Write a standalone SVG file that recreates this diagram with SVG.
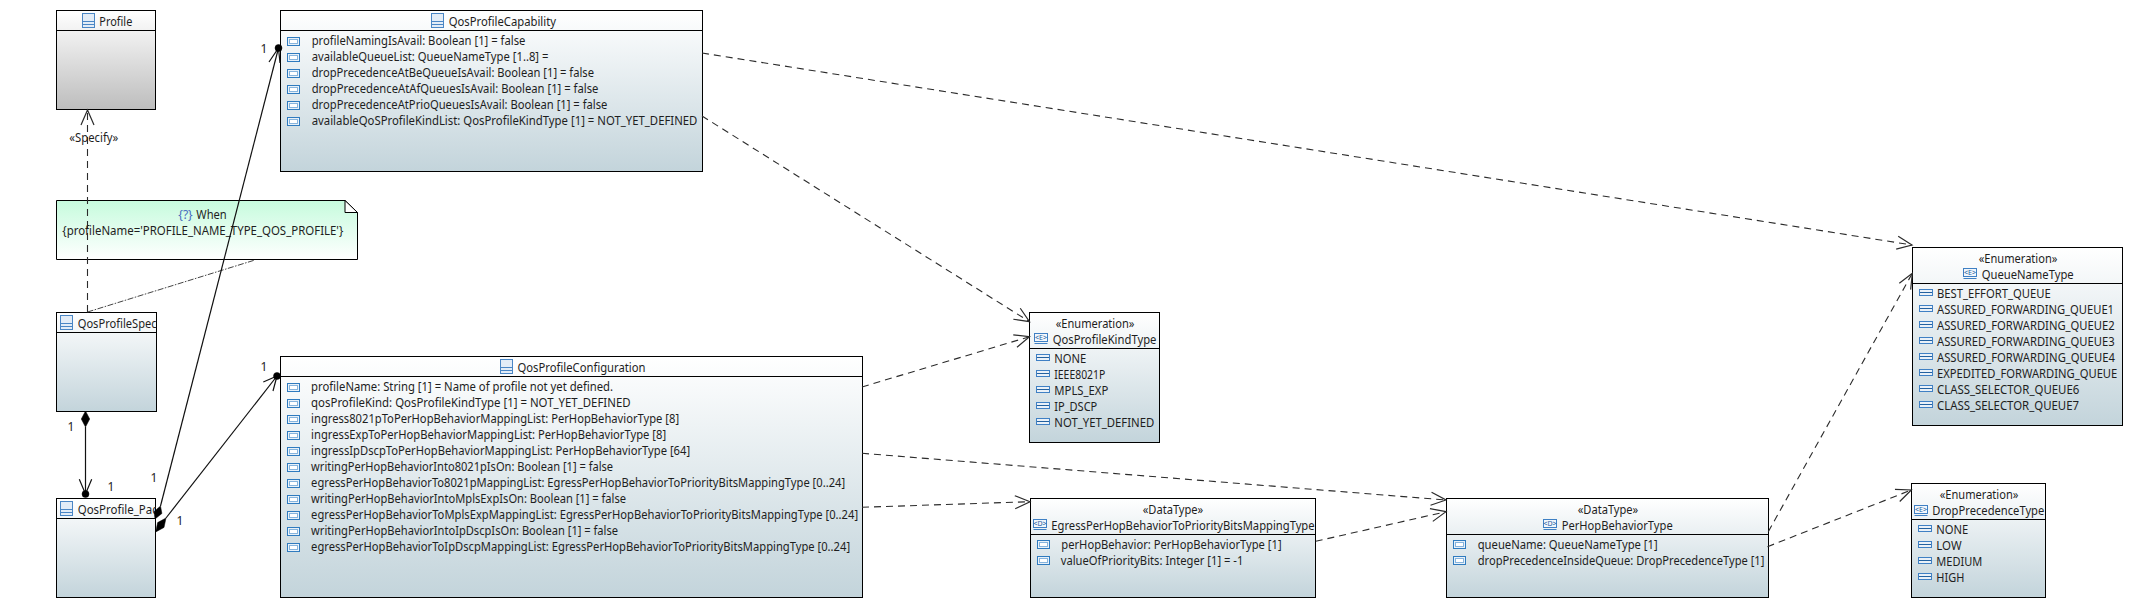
<svg xmlns="http://www.w3.org/2000/svg" width="2133" height="614" viewBox="0 0 2133 614">
<style>
text{font-family:"Noto Sans","Open Sans","Liberation Sans",sans-serif;font-size:12px;fill:#1e1e1e}
.m{text-anchor:start}
.box{stroke:#000;stroke-width:1}
.sep{stroke:#000;stroke-width:1;fill:none}
.dep{fill:none;stroke:#2b2b2b;stroke-width:1.1;stroke-dasharray:7 5;marker-end:url(#open)}
.link{fill:none;stroke:#444;stroke-width:1;stroke-dasharray:6 1.5 1.5 1.5}
.assoc{fill:none;stroke:#111;stroke-width:1.2}
.wing{fill:none;stroke:#111;stroke-width:1.2}
.solid{fill:#000;stroke:#000;stroke-width:.5}
</style>
<defs>
<linearGradient id="gB" x1="0" y1="0" x2="0" y2="1"><stop offset="0" stop-color="#fff"/><stop offset="1" stop-color="#c3d4db"/></linearGradient>
<linearGradient id="gG" x1="0" y1="0" x2="0" y2="1"><stop offset="0" stop-color="#fff"/><stop offset="1" stop-color="#bdbdbd"/></linearGradient>
<linearGradient id="gN" x1="0" y1="0" x2="0" y2="1"><stop offset="0" stop-color="#c6fbdd"/><stop offset="1" stop-color="#fff"/></linearGradient>
<marker id="open" markerUnits="userSpaceOnUse" markerWidth="20" markerHeight="18" refX="16" refY="7" orient="auto" overflow="visible"><path d="M1,0.5 L16,7 L1,13.5" fill="none" stroke="#2b2b2b" stroke-width="1.2"/></marker>
<g id="icC"><rect x=".5" y=".5" width="12" height="14" fill="#e2ecf7" stroke="#4a86c5"/><path d="M.5,8.5H12.5M.5,11.5H12.5" stroke="#4a86c5" fill="none"/></g>
<g id="icA"><rect x=".5" y=".5" width="12" height="8" fill="#e8f1f9" stroke="#2f7bbf"/><rect x="2.5" y="2.5" width="8" height="4" fill="#fff" stroke="#86b4dd"/></g>
<g id="icL"><rect x=".5" y=".5" width="13" height="6" fill="#eaf1f8" stroke="#3f80c4"/><path d="M1,3.5H13" stroke="#23619f" fill="none"/></g>
<g id="icE"><rect x=".5" y=".5" width="13" height="8" fill="#f2f7fc" stroke="#3f80c4"/><path d="M.5,10.5H13.5" stroke="#3f80c4" fill="none"/><text x="7" y="7" text-anchor="middle" style="font-size:7px;fill:#23619f">&lt;E&gt;</text></g>
<g id="icD"><rect x=".5" y=".5" width="13" height="8" fill="#f2f7fc" stroke="#3f80c4"/><path d="M.5,10.5H13.5" stroke="#3f80c4" fill="none"/><text x="7" y="7" text-anchor="middle" style="font-size:7px;fill:#23619f">&lt;D&gt;</text></g>
<clipPath id="cSpec"><rect x="57" y="313" width="100" height="20"/></clipPath>
<clipPath id="cPac"><rect x="57" y="499" width="99" height="20"/></clipPath>
</defs>

<g id="Profile">
<rect class="box" x="56.5" y="10.5" width="99" height="99" fill="url(#gG)"/>
<path class="sep" d="M56.5,30.5H155.5"/>
<use href="#icC" x="82" y="13"/>
<text x="99.3" y="26" textLength="33" lengthAdjust="spacingAndGlyphs">Profile</text>
</g>

<g id="Note">
<path class="box" d="M56.5,200.5H345L357.5,212.5V259.5H56.5Z" fill="url(#gN)"/>
<path d="M345,200.5V212.5H357.5L345,200.5Z" fill="#fff" stroke="#000"/>
<text x="178.3" y="219" textLength="14.4" lengthAdjust="spacingAndGlyphs" style="fill:#4a6cc0">{?}</text>
<text x="196.3" y="219" textLength="30.4" lengthAdjust="spacingAndGlyphs">When</text>
<text x="62.3" y="235" textLength="281" lengthAdjust="spacingAndGlyphs">{profileName='PROFILE_NAME_TYPE_QOS_PROFILE'}</text>
</g>

<g id="QosProfileSpec">
<rect class="box" x="56.5" y="312.5" width="100" height="99" fill="url(#gB)"/>
<path class="sep" d="M56.5,332.5H156.5"/>
<use href="#icC" x="60" y="315"/>
<text x="77.7" y="328" textLength="79" lengthAdjust="spacingAndGlyphs" clip-path="url(#cSpec)">QosProfileSpec</text>
</g>

<g id="QosProfile_Pac">
<rect class="box" x="56.5" y="498.5" width="99" height="99" fill="url(#gB)"/>
<path class="sep" d="M56.5,518.5H155.5"/>
<use href="#icC" x="60" y="501"/>
<text x="77.7" y="514" textLength="80" lengthAdjust="spacingAndGlyphs" clip-path="url(#cPac)">QosProfile_Pac</text>
</g>

<g id="QosProfileCapability">
<rect class="box" x="280.5" y="10.5" width="422" height="161" fill="url(#gB)"/>
<path class="sep" d="M280.5,30.5H702.5"/>
<use href="#icC" x="431" y="13"/>
<text x="448.7" y="26" textLength="107.3" lengthAdjust="spacingAndGlyphs">QosProfileCapability</text>
<use href="#icA" x="287" y="37"/><text x="311.7" y="45" textLength="213.7" lengthAdjust="spacingAndGlyphs">profileNamingIsAvail: Boolean [1] = false</text>
<use href="#icA" x="287" y="53"/><text x="311.7" y="61" textLength="236.7" lengthAdjust="spacingAndGlyphs">availableQueueList: QueueNameType [1..8] =</text>
<use href="#icA" x="287" y="69"/><text x="311.7" y="77" textLength="282.3" lengthAdjust="spacingAndGlyphs">dropPrecedenceAtBeQueueIsAvail: Boolean [1] = false</text>
<use href="#icA" x="287" y="85"/><text x="311.7" y="93" textLength="286.7" lengthAdjust="spacingAndGlyphs">dropPrecedenceAtAfQueuesIsAvail: Boolean [1] = false</text>
<use href="#icA" x="287" y="101"/><text x="311.7" y="109" textLength="295.7" lengthAdjust="spacingAndGlyphs">dropPrecedenceAtPrioQueuesIsAvail: Boolean [1] = false</text>
<use href="#icA" x="287" y="117"/><text x="311.7" y="125" textLength="385.7" lengthAdjust="spacingAndGlyphs">availableQoSProfileKindList: QosProfileKindType [1] = NOT_YET_DEFINED</text>
</g>

<g id="QosProfileConfiguration">
<rect class="box" x="280.5" y="356.5" width="582" height="241" fill="url(#gB)"/>
<path class="sep" d="M280.5,376.5H862.5"/>
<use href="#icC" x="500" y="359"/>
<text x="517.5" y="372" textLength="128" lengthAdjust="spacingAndGlyphs">QosProfileConfiguration</text>
<use href="#icA" x="287" y="383"/><text x="311.1" y="391" textLength="302" lengthAdjust="spacingAndGlyphs">profileName: String [1] = Name of profile not yet defined.</text>
<use href="#icA" x="287" y="399"/><text x="311.1" y="407" textLength="319.5" lengthAdjust="spacingAndGlyphs">qosProfileKind: QosProfileKindType [1] = NOT_YET_DEFINED</text>
<use href="#icA" x="287" y="415"/><text x="311.1" y="423" textLength="368" lengthAdjust="spacingAndGlyphs">ingress8021pToPerHopBehaviorMappingList: PerHopBehaviorType [8]</text>
<use href="#icA" x="287" y="431"/><text x="311.1" y="439" textLength="355" lengthAdjust="spacingAndGlyphs">ingressExpToPerHopBehaviorMappingList: PerHopBehaviorType [8]</text>
<use href="#icA" x="287" y="447"/><text x="311.1" y="455" textLength="379" lengthAdjust="spacingAndGlyphs">ingressIpDscpToPerHopBehaviorMappingList: PerHopBehaviorType [64]</text>
<use href="#icA" x="287" y="463"/><text x="311.1" y="471" textLength="302" lengthAdjust="spacingAndGlyphs">writingPerHopBehaviorInto8021pIsOn: Boolean [1] = false</text>
<use href="#icA" x="287" y="479"/><text x="311.1" y="487" textLength="534" lengthAdjust="spacingAndGlyphs">egressPerHopBehaviorTo8021pMappingList: EgressPerHopBehaviorToPriorityBitsMappingType [0..24]</text>
<use href="#icA" x="287" y="495"/><text x="311.1" y="503" textLength="315" lengthAdjust="spacingAndGlyphs">writingPerHopBehaviorIntoMplsExpIsOn: Boolean [1] = false</text>
<use href="#icA" x="287" y="511"/><text x="311.1" y="519" textLength="547" lengthAdjust="spacingAndGlyphs">egressPerHopBehaviorToMplsExpMappingList: EgressPerHopBehaviorToPriorityBitsMappingType [0..24]</text>
<use href="#icA" x="287" y="527"/><text x="311.1" y="535" textLength="307" lengthAdjust="spacingAndGlyphs">writingPerHopBehaviorIntoIpDscpIsOn: Boolean [1] = false</text>
<use href="#icA" x="287" y="543"/><text x="311.1" y="551" textLength="539" lengthAdjust="spacingAndGlyphs">egressPerHopBehaviorToIpDscpMappingList: EgressPerHopBehaviorToPriorityBitsMappingType [0..24]</text>
</g>

<g id="QosProfileKindType">
<rect class="box" x="1029.5" y="312.5" width="130" height="130" fill="url(#gB)"/>
<path class="sep" d="M1029.5,348.5H1159.5"/>
<text x="1055.7" y="328" textLength="78.7" lengthAdjust="spacingAndGlyphs">«Enumeration»</text>
<use href="#icE" x="1034" y="333"/>
<text x="1052.7" y="344" textLength="103.7" lengthAdjust="spacingAndGlyphs">QosProfileKindType</text>
<use href="#icL" x="1036" y="354"/><text x="1054.3" y="362.5" textLength="32" lengthAdjust="spacingAndGlyphs">NONE</text>
<use href="#icL" x="1036" y="370"/><text x="1054.3" y="378.5" textLength="51" lengthAdjust="spacingAndGlyphs">IEEE8021P</text>
<use href="#icL" x="1036" y="386"/><text x="1054.3" y="394.5" textLength="54" lengthAdjust="spacingAndGlyphs">MPLS_EXP</text>
<use href="#icL" x="1036" y="402"/><text x="1054.3" y="410.5" textLength="43" lengthAdjust="spacingAndGlyphs">IP_DSCP</text>
<use href="#icL" x="1036" y="418"/><text x="1054.3" y="426.5" textLength="100" lengthAdjust="spacingAndGlyphs">NOT_YET_DEFINED</text>
</g>

<g id="EgressPerHopBehaviorToPriorityBitsMappingType">
<rect class="box" x="1030.5" y="498.5" width="285" height="99" fill="url(#gB)"/>
<path class="sep" d="M1030.5,534.5H1315.5"/>
<text x="1142.7" y="514" textLength="60.6" lengthAdjust="spacingAndGlyphs">«DataType»</text>
<use href="#icD" x="1033" y="519"/>
<text x="1051.3" y="530" textLength="263.3" lengthAdjust="spacingAndGlyphs">EgressPerHopBehaviorToPriorityBitsMappingType</text>
<use href="#icA" x="1037" y="540"/><text x="1061.3" y="549" textLength="220.3" lengthAdjust="spacingAndGlyphs">perHopBehavior: PerHopBehaviorType [1]</text>
<use href="#icA" x="1037" y="556"/><text x="1060.7" y="565" textLength="182.7" lengthAdjust="spacingAndGlyphs">valueOfPriorityBits: Integer [1] = -1</text>
</g>

<g id="PerHopBehaviorType">
<rect class="box" x="1446.5" y="498.5" width="322" height="99" fill="url(#gB)"/>
<path class="sep" d="M1446.5,534.5H1768.5"/>
<text x="1577.7" y="514" textLength="60.6" lengthAdjust="spacingAndGlyphs">«DataType»</text>
<use href="#icD" x="1543" y="519"/>
<text x="1561.7" y="530" textLength="111" lengthAdjust="spacingAndGlyphs">PerHopBehaviorType</text>
<use href="#icA" x="1453" y="540"/><text x="1477.7" y="549" textLength="180" lengthAdjust="spacingAndGlyphs">queueName: QueueNameType [1]</text>
<use href="#icA" x="1453" y="556"/><text x="1477.7" y="565" textLength="286.7" lengthAdjust="spacingAndGlyphs">dropPrecedenceInsideQueue: DropPrecedenceType [1]</text>
</g>

<g id="QueueNameType">
<rect class="box" x="1912.5" y="247.5" width="210" height="178" fill="url(#gB)"/>
<path class="sep" d="M1912.5,283.5H2122.5"/>
<text x="1978.7" y="263" textLength="78.7" lengthAdjust="spacingAndGlyphs">«Enumeration»</text>
<use href="#icE" x="1963" y="268"/>
<text x="1981.7" y="279" textLength="92" lengthAdjust="spacingAndGlyphs">QueueNameType</text>
<use href="#icL" x="1919" y="289"/><text x="1937" y="297.5" textLength="113.7" lengthAdjust="spacingAndGlyphs">BEST_EFFORT_QUEUE</text>
<use href="#icL" x="1919" y="305"/><text x="1937" y="313.5" textLength="177" lengthAdjust="spacingAndGlyphs">ASSURED_FORWARDING_QUEUE1</text>
<use href="#icL" x="1919" y="321"/><text x="1937" y="329.5" textLength="177.7" lengthAdjust="spacingAndGlyphs">ASSURED_FORWARDING_QUEUE2</text>
<use href="#icL" x="1919" y="337"/><text x="1937" y="345.5" textLength="177.7" lengthAdjust="spacingAndGlyphs">ASSURED_FORWARDING_QUEUE3</text>
<use href="#icL" x="1919" y="353"/><text x="1937" y="361.5" textLength="178" lengthAdjust="spacingAndGlyphs">ASSURED_FORWARDING_QUEUE4</text>
<use href="#icL" x="1919" y="369"/><text x="1937" y="377.5" textLength="180.3" lengthAdjust="spacingAndGlyphs">EXPEDITED_FORWARDING_QUEUE</text>
<use href="#icL" x="1919" y="385"/><text x="1937" y="393.5" textLength="142.3" lengthAdjust="spacingAndGlyphs">CLASS_SELECTOR_QUEUE6</text>
<use href="#icL" x="1919" y="401"/><text x="1937" y="409.5" textLength="142" lengthAdjust="spacingAndGlyphs">CLASS_SELECTOR_QUEUE7</text>
</g>

<g id="DropPrecedenceType">
<rect class="box" x="1911.5" y="483.5" width="134" height="114" fill="url(#gB)"/>
<path class="sep" d="M1911.5,519.5H2045.5"/>
<text x="1939.7" y="499" textLength="78.7" lengthAdjust="spacingAndGlyphs">«Enumeration»</text>
<use href="#icE" x="1914" y="505"/>
<text x="1932.3" y="515" textLength="112" lengthAdjust="spacingAndGlyphs">DropPrecedenceType</text>
<use href="#icL" x="1918" y="525"/><text x="1936.3" y="533.5" textLength="32" lengthAdjust="spacingAndGlyphs">NONE</text>
<use href="#icL" x="1918" y="541"/><text x="1936.3" y="549.5" textLength="25.3" lengthAdjust="spacingAndGlyphs">LOW</text>
<use href="#icL" x="1918" y="557"/><text x="1936.3" y="565.5" textLength="46" lengthAdjust="spacingAndGlyphs">MEDIUM</text>
<use href="#icL" x="1918" y="573"/><text x="1936.3" y="581.5" textLength="28" lengthAdjust="spacingAndGlyphs">HIGH</text>
</g>

<g id="connectors">
<path class="dep" d="M87.5,312V110"/>
<text x="69.3" y="142" textLength="49" lengthAdjust="spacingAndGlyphs">«Specify»</text>
<path class="link" d="M87.5,312L255,260"/>

<path class="assoc" d="M85.5,427V494"/>
<polygon class="solid" points="85.5,411 89.7,419 85.5,427 81.3,419"/>
<path class="wing" d="M79.3,479.3L85.5,494L91.7,479.3"/>
<circle class="solid" cx="85.5" cy="494" r="3.5"/>
<text x="67.5" y="430.5">1</text>
<text x="107.5" y="490.5">1</text>

<path class="assoc" d="M160.5,506L278.5,48"/>
<polygon class="solid" points="155,519 161.9,513.5 160.5,506 154.1,511.5"/>
<path class="wing" d="M269,62L278.5,48L280,63"/>
<circle class="solid" cx="278.5" cy="48" r="3.5"/>
<text x="150.5" y="481.5">1</text>
<text x="260.5" y="52.5">1</text>

<path class="assoc" d="M166,518L277,376"/>
<polygon class="solid" points="155.7,532 164,527.4 166,518 157.6,522.6"/>
<path class="wing" d="M263.3,382L277,376L273,391"/>
<circle class="solid" cx="277" cy="376" r="3.5"/>
<text x="176.5" y="524.5">1</text>
<text x="260.5" y="371">1</text>

<path class="dep" d="M702,53L1912,245"/>
<path class="dep" d="M702,116L1029.5,321.7"/>
<path class="dep" d="M862,387L1029.5,336.7"/>
<path class="dep" d="M862,453.3L1446,500"/>
<path class="dep" d="M862,507.3L1030,501.7"/>
<path class="dep" d="M1315.7,541.3L1446,511.7"/>
<path class="dep" d="M1768.3,531.7L1912.3,273.3"/>
<path class="dep" d="M1767.5,546.7L1911.3,490"/>
</g>
</svg>
